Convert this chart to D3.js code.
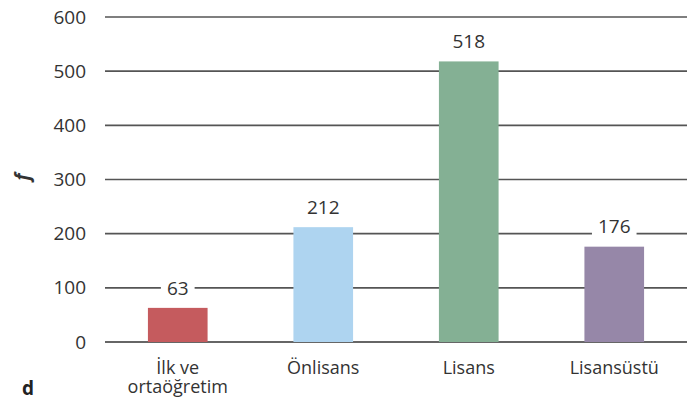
<!DOCTYPE html>
<html>
<head>
<meta charset="utf-8">
<script src="https://cdn.jsdelivr.net/npm/d3@7"></script>
<style>
  body { margin: 0; background: #fff; }
  svg text { font-family: "Open Sans", sans-serif; fill: #333; }
</style>
</head>
<body>
<svg id="chart" width="699" height="401"></svg>
<script>
// chart data
const categories = [["İlk ve", "ortaöğretim"], ["Önlisans"], ["Lisans"], ["Lisansüstü"]];
const values = [63, 212, 518, 176];
const colors = ["#c55b5e", "#aed4f0", "#84b094", "#9687a8"];
const yTicks = [0, 100, 200, 300, 400, 500, 600];

const svg = d3.select("#chart");
const plotLeft = 105, plotRight = 687, plotTop = 17, plotBottom = 342;

const x = d3.scaleBand()
    .domain(d3.range(values.length))
    .range([plotLeft, plotRight])
    .paddingInner(0.59)
    .paddingOuter(0.295);

const y = d3.scaleLinear().domain([0, 600]).range([plotBottom, plotTop]);

// gridlines
svg.append("g").selectAll("line")
    .data(yTicks)
    .join("line")
    .attr("x1", plotLeft).attr("x2", plotRight)
    .attr("y1", d => y(d)).attr("y2", d => y(d))
    .attr("stroke", d => d === 0 ? "#333" : "#555")
    .attr("stroke-width", 1.6);

// tick labels
svg.append("g").selectAll("text")
    .data(yTicks)
    .join("text")
    .attr("x", 86)
    .attr("y", d => y(d))
    .attr("dy", "0.35em")
    .attr("text-anchor", "end")
    .attr("font-size", 19)
    .text(d => d);

// bars
svg.append("g").selectAll("rect")
    .data(values)
    .join("rect")
    .attr("x", (d, i) => x(i))
    .attr("width", x.bandwidth())
    .attr("y", d => y(d))
    .attr("height", d => y(0) - y(d))
    .attr("fill", (d, i) => colors[i]);

// value labels with white box over gridlines
const vg = svg.append("g").selectAll("g")
    .data(values)
    .join("g");
vg.append("text")
    .attr("x", (d, i) => x(i) + x.bandwidth() / 2)
    .attr("y", d => y(d) - 20)
    .attr("dy", "0.35em")
    .attr("text-anchor", "middle")
    .attr("font-size", 19)
    .text(d => d);
vg.each(function() {
    const g = d3.select(this);
    const b = g.select("text").node().getBBox();
    g.insert("rect", "text")
        .attr("x", b.x - 6).attr("y", b.y + 3)
        .attr("width", b.width + 12).attr("height", b.height - 6)
        .attr("fill", "#fff");
});

// category labels, one text per line
categories.forEach((lines, i) => {
    lines.forEach((line, j) => {
        svg.append("text")
            .attr("x", x(i) + x.bandwidth() / 2)
            .attr("y", 374 + j * 19)
            .attr("text-anchor", "middle")
            .attr("font-size", 18)
            .text(line);
    });
});

// axis title and panel letter
svg.append("text")
    .attr("transform", "translate(22,177) rotate(-90)")
    .attr("dy", "0.35em")
    .attr("text-anchor", "middle")
    .attr("font-size", 19)
    .attr("font-style", "italic")
    .attr("font-weight", "bold")
    .text("f");

svg.append("text")
    .attr("x", 22).attr("y", 395)
    .attr("font-size", 19)
    .attr("font-weight", "bold")
    .style("fill", "#222")
    .text("d");
</script>
</body>
</html>
